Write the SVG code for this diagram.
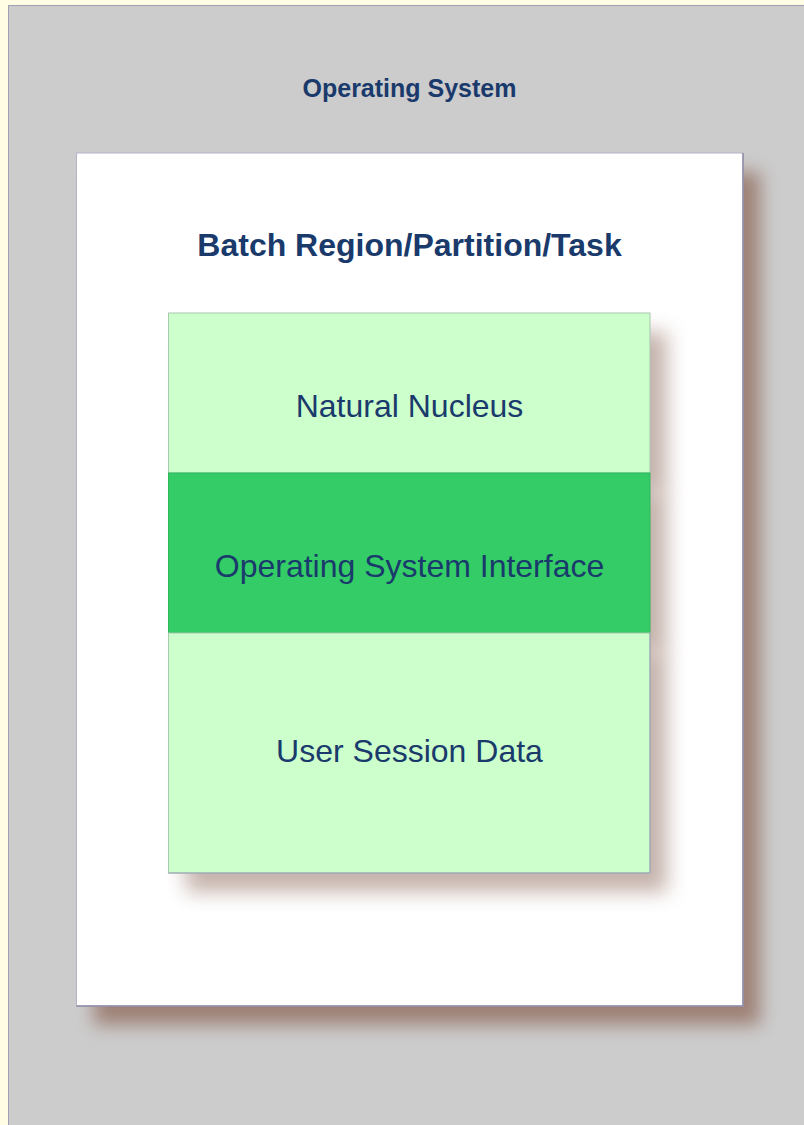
<svg xmlns="http://www.w3.org/2000/svg" width="804" height="1125" viewBox="0 0 804 1125">
  <defs>
    <filter id="shadowBig" x="-20%" y="-20%" width="140%" height="140%">
      <feGaussianBlur stdDeviation="9"/>
    </filter>
    <filter id="shadowSmall" x="-20%" y="-30%" width="140%" height="160%">
      <feGaussianBlur stdDeviation="10"/>
    </filter>
  </defs>
  <style>
    .t { font-family: "Liberation Sans", Arial, Helvetica, sans-serif; fill: #1a3a6c; text-anchor: middle; }
    .bold { font-weight: bold; }
    .light { fill: #ccffcc; stroke: #a8c8b0; stroke-width: 1; }
    .dark { fill: #33cc66; stroke: #2eb85c; stroke-width: 1; }
    .shadow { fill: #967468; }
  </style>

  <rect x="0" y="0" width="804" height="1125" fill="#fffde4"/>

  <g id="operating-system">
    <rect x="8.5" y="5.5" width="800" height="1125" fill="#cccccc" stroke="#a0a0b4" stroke-width="1"/>
    <text class="t bold" x="409.5" y="97" font-size="25">Operating System</text>
  </g>

  <g id="batch-region">
    <rect class="shadow" x="94" y="172" width="666" height="853" filter="url(#shadowBig)" opacity="0.85"/>
    <rect x="76.5" y="153" width="666.5" height="853" fill="#ffffff" stroke="#b4b4c8" stroke-width="1"/>
    <path d="M743 153 V1006 H76.5" fill="none" stroke="#8e8aa6" stroke-width="1.5"/>
    <text class="t bold" x="409.5" y="256" font-size="32">Batch Region/Partition/Task</text>
  </g>

  <g id="shadows">
    <rect class="shadow" x="186" y="332" width="481" height="160" filter="url(#shadowSmall)" opacity="0.55"/>
    <rect class="shadow" x="186" y="492" width="481" height="160" filter="url(#shadowSmall)" opacity="0.55"/>
    <rect class="shadow" x="186" y="652" width="481" height="240" filter="url(#shadowSmall)" opacity="0.55"/>
  </g>

  <g id="natural-nucleus">
    <rect class="light" x="168.5" y="313" width="481.5" height="160"/>
    <text class="t" x="409.5" y="417" font-size="32">Natural Nucleus</text>
  </g>

  <g id="os-interface">
    <rect class="dark" x="168.5" y="473" width="481.5" height="160"/>
    <text class="t" x="409.5" y="577" font-size="32">Operating System Interface</text>
  </g>

  <g id="user-session-data">
    <rect class="light" x="168.5" y="633" width="481.5" height="240"/>
    <path d="M650 633 V873 H168.5" fill="none" stroke="#9c9cb8" stroke-width="1"/>
    <text class="t" x="409.5" y="762" font-size="32">User Session Data</text>
  </g>

  <g id="connectors"></g>
</svg>
